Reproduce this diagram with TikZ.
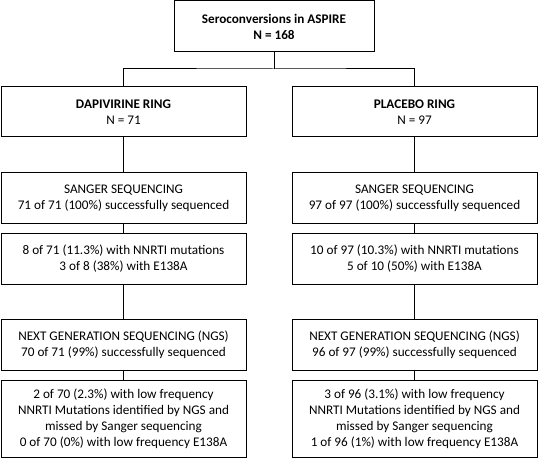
\documentclass[tikz,border=0pt]{standalone}
\usepackage{fontspec}
\setmainfont{Carlito}
\begin{document}
\begin{tikzpicture}[x=1pt,y=1pt,
  box/.style={draw, line width=1pt, align=center, inner sep=0pt,
    minimum width=245pt, minimum height=50pt,
    font=\fontsize{13.2}{16}\selectfont},
  conn/.style={line width=1pt}]
\useasboundingbox (0,0) rectangle (540,461);
\node[box, minimum width=200pt, minimum height=51pt] (top) at (274,434.5)
  {\textbf{Seroconversions in ASPIRE}\\\textbf{N = 168}};
\node[box] (dap) at (123.5,349) {\textbf{DAPIVIRINE RING}\\N = 71};
\node[box] (pla) at (414.5,349) {\textbf{PLACEBO RING}\\N = 97};
\node[box] (sl) at (123.5,263) {SANGER SEQUENCING\\71 of 71 (100\%) successfully sequenced};
\node[box] (sr) at (414.5,263) {SANGER SEQUENCING\\97 of 97 (100\%) successfully sequenced};
\node[box, minimum height=51pt] (ml) at (123.5,202.5) {8 of 71 (11.3\%) with NNRTI mutations\\3 of 8 (38\%) with E138A};
\node[box, minimum height=51pt] (mr) at (414.5,202.5) {10 of 97 (10.3\%) with NNRTI mutations\\5 of 10 (50\%) with E138A};
\node[box, minimum height=51pt] (nl) at (123.5,116.5) {NEXT GENERATION SEQUENCING (NGS)\\70 of 71 (99\%) successfully sequenced};
\node[box, minimum height=51pt] (nr) at (414.5,116.5) {NEXT GENERATION SEQUENCING (NGS)\\96 of 97 (99\%) successfully sequenced};
\node[box, minimum height=77pt] (ll) at (123.5,42.5) {2 of 70 (2.3\%) with low frequency\\NNRTI Mutations identified by NGS and\\missed by Sanger sequencing\\0 of 70 (0\%) with low frequency E138A};
\node[box, minimum height=77pt] (lr) at (414.5,42.5) {3 of 96 (3.1\%) with low frequency\\NNRTI Mutations identified by NGS and\\missed by Sanger sequencing\\1 of 96 (1\%) with low frequency E138A};
\coordinate (j) at (274,392);
\draw[conn] (top.south) -- (j);
\draw[conn] (dap.north) |- (j) -| (pla.north);
\draw[conn] (dap) -- (sl);
\draw[conn] (pla) -- (sr);
\draw[conn] (sl) -- (ml);
\draw[conn] (sr) -- (mr);
\draw[conn] (ml) -- (nl);
\draw[conn] (mr) -- (nr);
\draw[conn] (nl) -- (ll);
\draw[conn] (nr) -- (lr);
\end{tikzpicture}
\end{document}
